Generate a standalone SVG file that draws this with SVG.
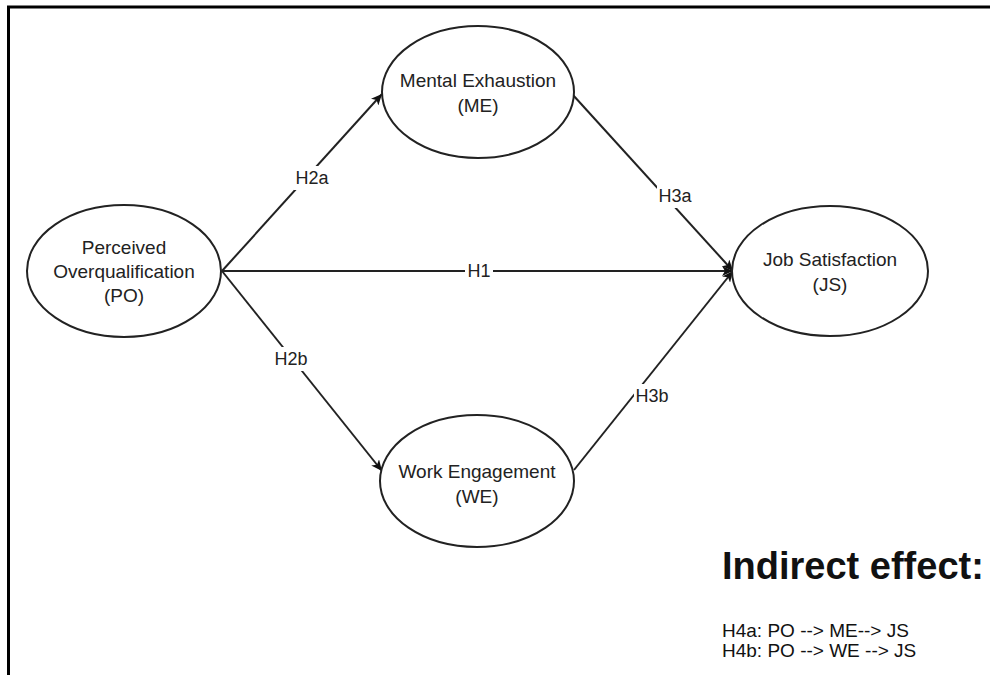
<svg xmlns="http://www.w3.org/2000/svg" width="990" height="675" viewBox="0 0 990 675">
<defs>
<style>
.node ellipse{fill:#fff;stroke:#222;stroke-width:2}
.node text{font-family:"Liberation Sans",Arial,sans-serif;font-size:19px;fill:#222;text-anchor:middle}
.edge{stroke:#222;stroke-width:2;fill:none;marker-end:url(#arr)}
.lbl rect{fill:#fff}
.lbl text{font-family:"Liberation Sans",Arial,sans-serif;font-size:18px;fill:#222;text-anchor:middle}
.note{font-family:"Liberation Sans",Arial,sans-serif;fill:#111}
</style>
<marker id="arr" markerUnits="userSpaceOnUse" markerWidth="12" markerHeight="10" refX="11" refY="5" orient="auto">
<path d="M0,0 L11,5 L0,10 L3,5 z" fill="#111"/>
</marker>
</defs>
<rect width="990" height="675" fill="#fff"/>
<g id="frame">
<line x1="7" y1="7" x2="990" y2="7" stroke="#000" stroke-width="3"/>
<line x1="8.5" y1="6" x2="8.5" y2="675" stroke="#000" stroke-width="3"/>
</g>
<g id="connectors">
<line class="edge" x1="222" y1="271" x2="382" y2="94"/>
<line class="edge" x1="222" y1="271" x2="382" y2="471"/>
<line class="edge" x1="222" y1="271" x2="733" y2="271"/>
<line class="edge" x1="573" y1="95" x2="733" y2="271"/>
<line class="edge" x1="574" y1="470" x2="733" y2="271"/>
<g class="lbl"><rect x="294" y="166" width="36" height="24"/><text x="312" y="184">H2a</text></g>
<g class="lbl"><rect x="273" y="347" width="36" height="24"/><text x="291" y="365">H2b</text></g>
<g class="lbl"><rect x="465" y="260" width="28" height="22"/><text x="479" y="277">H1</text></g>
<g class="lbl"><rect x="657" y="184" width="36" height="24"/><text x="675" y="202">H3a</text></g>
<g class="lbl"><rect x="634" y="384" width="36" height="24"/><text x="652" y="402">H3b</text></g>
</g>
<g id="PO" class="node"><ellipse cx="124" cy="271" rx="97" ry="66"/><text x="124" y="254">Perceived</text><text x="124" y="278">Overqualification</text><text x="124" y="302">(PO)</text></g>
<g id="ME" class="node"><ellipse cx="478" cy="92" rx="96" ry="66"/><text x="478" y="87">Mental Exhaustion</text><text x="478" y="112">(ME)</text></g>
<g id="JS" class="node"><ellipse cx="830" cy="271" rx="98" ry="65"/><text x="830" y="266">Job Satisfaction</text><text x="830" y="291">(JS)</text></g>
<g id="WE" class="node"><ellipse cx="477" cy="481" rx="97" ry="66"/><text x="477" y="478">Work Engagement</text><text x="477" y="503">(WE)</text></g>
<g id="notes">
<text class="note" x="722" y="579" font-size="38" font-weight="bold">Indirect effect:</text>
<text class="note" x="722" y="637" font-size="19">H4a: PO --&gt; ME--&gt; JS</text>
<text class="note" x="722" y="657" font-size="19">H4b: PO --&gt; WE --&gt; JS</text>
</g>
</svg>
